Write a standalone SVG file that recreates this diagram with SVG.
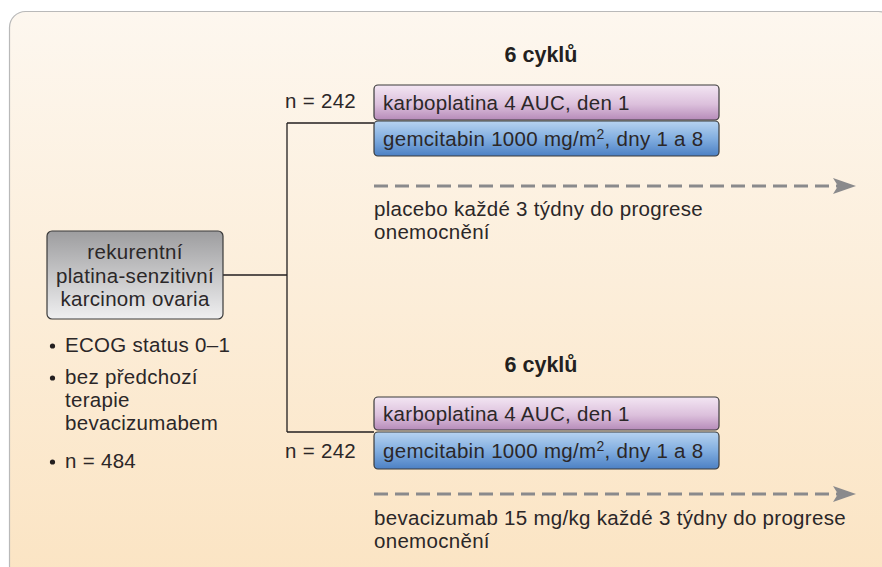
<svg xmlns="http://www.w3.org/2000/svg" width="882" height="567" viewBox="0 0 882 567">
<defs>
<linearGradient id="bg" x1="0" y1="0" x2="0" y2="1"><stop offset="0" stop-color="#fdf7ef"/><stop offset="1" stop-color="#fbe4c3"/></linearGradient>
<linearGradient id="gray" x1="0" y1="0" x2="0" y2="1"><stop offset="0" stop-color="#9d9d9f"/><stop offset="1" stop-color="#efeff0"/></linearGradient>
<linearGradient id="purple" x1="0" y1="0" x2="0" y2="1"><stop offset="0" stop-color="#f3e6f3"/><stop offset="0.55" stop-color="#dcc0dc"/><stop offset="1" stop-color="#b68bb9"/></linearGradient>
<linearGradient id="blue" x1="0" y1="0" x2="0" y2="1"><stop offset="0" stop-color="#b7d3f0"/><stop offset="0.5" stop-color="#82aee0"/><stop offset="1" stop-color="#4c80c4"/></linearGradient>
<marker id="arr" markerWidth="24" markerHeight="16" refX="23" refY="8" orient="auto" markerUnits="userSpaceOnUse"><path d="M0,0 L23,8 L0,16 L5,8 Z" fill="#8a8a8c"/></marker>
<style>
text{font-family:"Liberation Sans",Arial,sans-serif;font-size:20.5px;letter-spacing:0.3px;fill:#2b2728}
.b{font-weight:bold;font-size:21.5px;letter-spacing:0;fill:#231f20}
.box{stroke:#3a3a3a;stroke-width:1.2}
.ln{stroke:#231f20;stroke-width:1.3;fill:none}
.dash{stroke:#8a8a8c;stroke-width:3;stroke-dasharray:14 7;fill:none}
.dot{fill:#231f20}
</style>
</defs>
<rect x="9.5" y="11.5" width="885" height="570" rx="16" fill="url(#bg)" stroke="#b9b9b9" stroke-width="1.2"/>
<g id="connectors">
<path class="ln" d="M223,275 H287 M287,123 V432 M287,123 H374 M287,432 H374"/>
<path class="dash" d="M374,186 H856" marker-end="url(#arr)"/>
<path class="dash" d="M374,494 H856" marker-end="url(#arr)"/>
</g>
<g id="start">
<rect class="box" x="47" y="231" width="176" height="88" rx="5" fill="url(#gray)"/>
<text x="135" y="259" text-anchor="middle">rekurentní</text>
<text x="135" y="283" text-anchor="middle">platina-senzitivní</text>
<text x="135" y="306" text-anchor="middle">karcinom ovaria</text>
</g>
<g id="criteria">
<circle class="dot" cx="52.5" cy="346" r="2.6"/>
<text x="65" y="352">ECOG status 0–1</text>
<circle class="dot" cx="52.5" cy="378" r="2.6"/>
<text x="65" y="384">bez předchozí</text>
<text x="65" y="407">terapie</text>
<text x="65" y="430">bevacizumabem</text>
<circle class="dot" cx="52.5" cy="462" r="2.6"/>
<text x="65" y="468">n = 484</text>
</g>
<g id="arm1">
<text class="b" x="541" y="62" text-anchor="middle">6 cyklů</text>
<text x="285" y="108">n = 242</text>
<rect class="box" x="374" y="85" width="345" height="35" rx="4" fill="url(#purple)"/>
<text x="383" y="110">karboplatina 4 AUC, den 1</text>
<rect class="box" x="374" y="121" width="345" height="35" rx="4" fill="url(#blue)"/>
<text x="383" y="146">gemcitabin 1000 mg/m<tspan font-size="14" dy="-7">2</tspan><tspan dy="7">, dny 1 a 8</tspan></text>
<text x="374" y="216">placebo každé 3 týdny do progrese</text>
<text x="374" y="239">onemocnění</text>
</g>
<g id="arm2">
<text class="b" x="541" y="372" text-anchor="middle">6 cyklů</text>
<text x="285" y="458">n = 242</text>
<rect class="box" x="374" y="397" width="345" height="33" rx="4" fill="url(#purple)"/>
<text x="383" y="421">karboplatina 4 AUC, den 1</text>
<rect class="box" x="374" y="432" width="345" height="37" rx="4" fill="url(#blue)"/>
<text x="383" y="458">gemcitabin 1000 mg/m<tspan font-size="14" dy="-7">2</tspan><tspan dy="7">, dny 1 a 8</tspan></text>
<text x="374" y="525">bevacizumab 15 mg/kg každé 3 týdny do progrese</text>
<text x="374" y="548">onemocnění</text>
</g>
</svg>
